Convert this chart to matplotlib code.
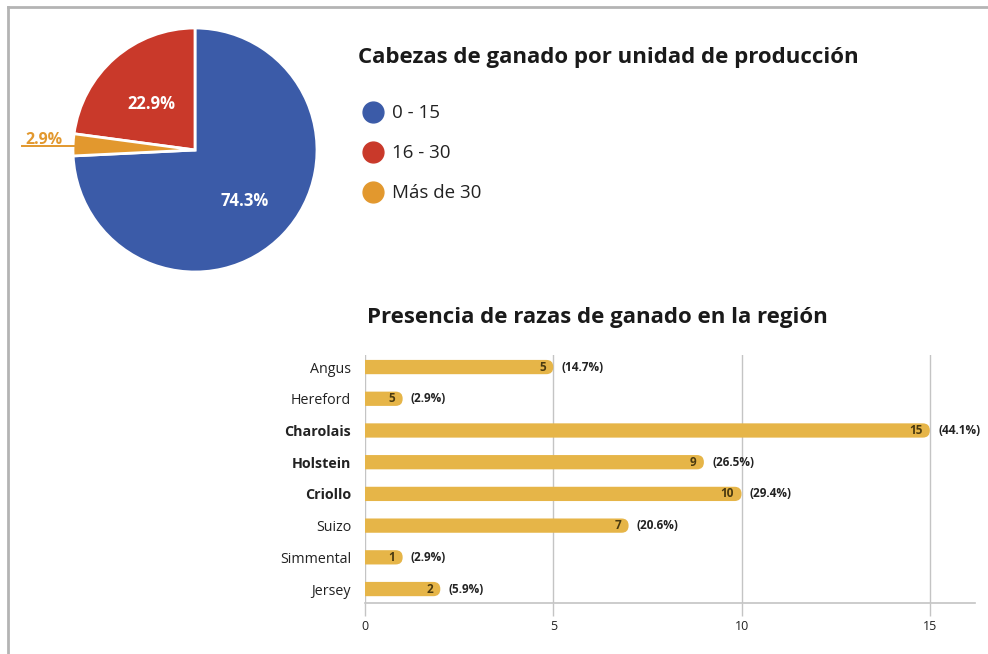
import numpy as np
import matplotlib
matplotlib.use("Agg")
import matplotlib.pyplot as plt
import matplotlib.transforms as mtransforms
from matplotlib.patches import FancyBboxPatch
from matplotlib.lines import Line2D

plt.rcParams['font.family'] = ['Open Sans', 'DejaVu Sans']

# ---- Data -------------------------------------------------------------
herd_sizes = ["0 - 15", "16 - 30", "Más de 30"]
herd_shares = [74.3, 22.9, 2.9]
herd_colors = ["#3B5BA8", "#C9392A", "#E2982E"]

breeds = ["Angus", "Hereford", "Charolais", "Holstein", "Criollo",
          "Suizo", "Simmental", "Jersey"]
breed_counts = [5, 1, 15, 9, 10, 7, 1, 2]
count_labels = ["5", "5", "15", "9", "10", "7", "1", "2"]
breed_pcts = [14.7, 2.9, 44.1, 26.5, 29.4, 20.6, 2.9, 5.9]
bold_breeds = {"Charolais", "Holstein", "Criollo"}
x_ticks = [0, 5, 10, 15]

W, H = 988, 654
fig = plt.figure(figsize=(W / 100, H / 100), dpi=100)
fig.patch.set_facecolor("white")

def fx(px):
    return px / W

def fy(py):
    return 1 - py / H

# frame lines along the top and left edges
fig.add_artist(Line2D([fx(8), 1], [fy(7), fy(7)], color="#b4b4b4", lw=2))
fig.add_artist(Line2D([fx(8), fx(8)], [fy(7), 0], color="#b4b4b4", lw=2))

# ---- Pie ---------------------------------------------------------------
cx, cy, r = 195, 150, 122
pax = fig.add_axes([fx(cx - r), fy(cy + r), 2 * r / W, 2 * r / H])
# largest slice ends at 12 o'clock going counter-clockwise around the left
start = 90 - 360 * herd_shares[0] / sum(herd_shares)
wedges, texts, autotexts = pax.pie(
    herd_shares, colors=herd_colors, startangle=start, counterclock=True,
    autopct=lambda p: f"{p:.1f}%", pctdistance=0.55,
    wedgeprops=dict(edgecolor="white", linewidth=2),
    textprops=dict(color="white", fontsize=12, fontweight="bold"))
pax.set_xlim(-1, 1)
pax.set_ylim(-1, 1)
pax.set_aspect("auto")
for t, v in zip(autotexts, herd_shares):
    t.set_text(f"{v:.1f}%")
    t.set_transform(mtransforms.offset_copy(pax.transData, fig=fig,
                                            x=1, y=-5, units="dots"))

# small slice: label outside with an underline leader
autotexts[2].set_visible(False)
pax.text(-1.39, 0.052, f"{herd_shares[2]:.1f}%", color=herd_colors[2],
         fontsize=11.5, fontweight="bold", ha="left", va="baseline",
         clip_on=False)
pax.plot([-1.42, -0.99], [0.035, 0.035], color=herd_colors[2], lw=1.4,
         clip_on=False)

# ---- Legend ------------------------------------------------------------
fig.text(fx(358), fy(58), "Cabezas de ganado por unidad de producción",
         fontsize=16, fontweight="bold", color="#1a1a1a", va="center", ha="left")
handles = [Line2D([0], [0], marker="o", linestyle="none", markersize=15,
                  markerfacecolor=c, markeredgecolor=c) for c in herd_colors]
fig.legend(handles, herd_sizes, loc="upper left",
           bbox_to_anchor=(fx(354), fy(97)), frameon=False,
           fontsize=13.5, labelspacing=1.17, handletextpad=0.45,
           handlelength=1.2, borderaxespad=0, labelcolor="#222222")

# ---- Bars --------------------------------------------------------------
fig.text(fx(367), fy(318), "Presencia de razas de ganado en la región",
         fontsize=16, fontweight="bold", color="#1a1a1a", va="center", ha="left")

ax = fig.add_axes([fx(365), fy(603), fx(975) - fx(365), (603 - 355) / H])
ypos = np.arange(len(breeds))
ax.set_xlim(0, 16.2)
ax.set_ylim(len(breeds) - 0.56, -0.38)

bar_color = "#E6B548"
bh = 0.45
px_per_x = (975 - 365) / 16.2
px_per_y = (603 - 355) / (len(breeds) - 0.56 + 0.38)
aspect = px_per_x / px_per_y
rad = 7 / px_per_x
# rounded bars; the left rounding sits below x = 0 and is clipped by the axes
for y, v in zip(ypos, breed_counts):
    ax.add_patch(FancyBboxPatch((-2 * rad, y - bh / 2), v + 2 * rad, bh,
                                boxstyle=f"round,pad=0,rounding_size={rad}",
                                mutation_aspect=aspect, facecolor=bar_color,
                                edgecolor="none", zorder=3))

for y, v, cl, p in zip(ypos, breed_counts, count_labels, breed_pcts):
    ax.text(v - 0.2, y, cl, ha="right", va="center", fontsize=8.5,
            fontweight="bold", color="#4a3a10", zorder=4)
    ax.text(v + 0.22, y, f"({p:.1f}%)", ha="left", va="center", fontsize=8.5,
            fontweight="bold", color="#222222", zorder=4)

ax.set_yticks(ypos)
ax.set_yticklabels(breeds, fontsize=10.3, color="#222222")
for lab in ax.get_yticklabels():
    if lab.get_text() in bold_breeds:
        lab.set_fontweight("bold")
ax.tick_params(axis="y", length=0, pad=10)

ax.set_xticks(x_ticks)
ax.set_xticklabels([str(t) for t in x_ticks], fontsize=9, color="#222222")
ax.tick_params(axis="x", length=9, width=1, color="#c4c4c4", pad=3)
ax.grid(axis="x", color="#c4c4c4", linewidth=1, zorder=0)
ax.set_axisbelow(True)
for side in ["top", "right", "left"]:
    ax.spines[side].set_visible(False)
ax.spines["bottom"].set_color("#c4c4c4")
ax.spines["bottom"].set_linewidth(1.2)

fig.savefig("out.png", dpi=100, facecolor="white")
